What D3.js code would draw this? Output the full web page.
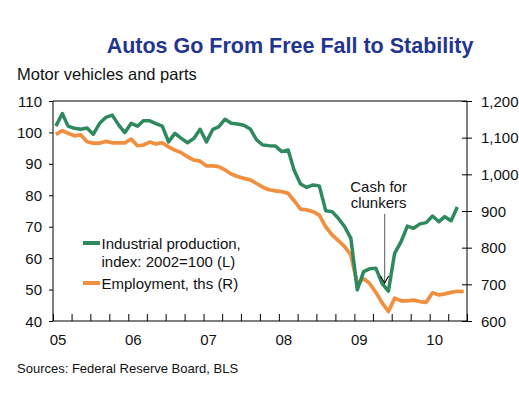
<!DOCTYPE html>
<html>
<head>
<meta charset="utf-8">
<script src="https://cdn.jsdelivr.net/npm/d3@7"></script>
<style>
  body { margin: 0; background: #fff; }
  svg { display: block; }
</style>
</head>
<body>
<svg id="chart"></svg>
<script>
// Monthly data starting Jan 2005
const startYear = 2005;
const ipIndex = [
  102, 106, 102, 101.3, 101, 101.4, 99.4, 102.9, 104.8, 105.5, 102.4, 99.9,
  102.9, 102, 103.7, 103.7, 102.8, 102, 97, 99.7, 98.1, 96.7, 98.1, 101,
  97, 101, 101.8, 104.2, 102.9, 102.7, 102.3, 101.1, 97.6, 96, 95.8, 95.7,
  93.9, 94.4, 88, 83.6, 82.5, 83.3, 83, 75.1, 74.8, 72.7, 70, 66.3,
  49.9, 55.7, 56.6, 56.8, 52, 49.5, 61.5, 65.2, 70.2, 69.5, 70.9, 71.3,
  73.4, 71.6, 73.2, 71.9, 76.3
];
const employment = [
  1109, 1119, 1112, 1105, 1108, 1089, 1085, 1085, 1090, 1086, 1086, 1086,
  1096, 1078, 1080, 1088, 1083, 1086, 1075, 1066, 1059, 1048, 1039, 1036,
  1023, 1023, 1021, 1012, 1001, 994, 989, 985, 975, 965, 958, 955,
  953, 948, 928, 905, 903, 898, 889, 857, 835, 819, 803, 780,
  702, 715, 703, 678, 650, 626, 662, 655, 655, 657, 653, 651,
  677, 671, 674, 678, 681, 680
];
const leftTicks = [40, 50, 60, 70, 80, 90, 100, 110];
const rightTicks = [600, 700, 800, 900, 1000, 1100, 1200];
const yearLabels = ["05", "06", "07", "08", "09", "10"];
const legendLabels = [["Industrial production,", "index: 2002=100 (L)"], ["Employment, ths (R)"]];
const noteLines = ["Cash for", "clunkers"];
const noteMonth = 54; // Jul 2009

const font = "Liberation Sans, Arial, sans-serif";
const width = 519;
const height = 398;
const svg = d3
  .select("#chart")
  .attr("width", width)
  .attr("height", height)
  .attr("viewBox", `0 0 ${width} ${height}`)
  .attr("font-family", font);

const margin = { top: 101, bottom: 77, left: 53, right: 52 };
const innerWidth = width - margin.left - margin.right;
const innerHeight = height - margin.top - margin.bottom;

const monthDate = (i) => new Date(startYear, i, 15);

const xScale = d3
  .scaleTime()
  .domain([new Date(2005, 0, 1), new Date(2010, 6, 1)])
  .range([0, innerWidth]);
const yLeft = d3.scaleLinear().domain([40, 110]).range([innerHeight, 0]);
const yRight = d3.scaleLinear().domain([600, 1200]).range([innerHeight, 0]);

const g = svg
  .append("g")
  .attr("transform", `translate(${margin.left},${margin.top})`);

// frame top
g.append("line")
  .attr("x1", 0).attr("x2", innerWidth)
  .attr("y1", 0).attr("y2", 0)
  .attr("stroke", "#000");

const styleAxis = (sel) => {
  sel.attr("font-size", 15).attr("font-family", font);
  sel.selectAll("text").attr("fill", "#111");
  sel.selectAll("line, path").attr("stroke", "#000");
};

// left axis
const yAxisL = d3.axisLeft(yLeft).tickValues(leftTicks).tickSize(4).tickPadding(7);
const yAxisLG = g.append("g").call(yAxisL).call(styleAxis);
yAxisLG.select(".domain").attr("d", `M0,0V${innerHeight}`);
yAxisLG.selectAll(".tick text").attr("dy", 5);

// right axis
const yAxisR = d3
  .axisRight(yRight)
  .tickValues(rightTicks)
  .tickSize(5)
  .tickPadding(9)
  .tickFormat(d3.format(","));
const yAxisRG = g
  .append("g")
  .attr("transform", `translate(${innerWidth},0)`)
  .call(yAxisR)
  .call(styleAxis);
yAxisRG.select(".domain").attr("d", `M0,0V${innerHeight}`);
yAxisRG.selectAll(".tick line").attr("x1", -5);
yAxisRG.selectAll(".tick text").attr("dy", 5);

// bottom axis: quarterly ticks, year labels only
const quarterTicks = d3.timeMonth.every(3).range(new Date(2005, 0, 1), new Date(2010, 7, 1));
const xAxis = d3
  .axisBottom(xScale)
  .tickValues(quarterTicks)
  .tickSize(-7)
  .tickPadding(16)
  .tickFormat((d) => (d.getMonth() === 0 ? yearLabels[d.getFullYear() - startYear] : ""));
const xAxisG = g
  .append("g")
  .attr("transform", `translate(0,${innerHeight})`)
  .call(xAxis)
  .call(styleAxis);
xAxisG.select(".domain").attr("d", `M0,0H${innerWidth}`);
xAxisG.selectAll(".tick text").filter((d) => d.getMonth() !== 0).remove();
xAxisG.selectAll(".tick text").attr("dx", 4.5).attr("y", 20).attr("dy", 4);

// lines
const lineL = d3
  .line()
  .x((d, i) => xScale(monthDate(i)))
  .y((d) => yLeft(d));
const lineR = d3
  .line()
  .x((d, i) => xScale(monthDate(i)))
  .y((d) => yRight(d));

const green = "#2e8a5e";
const orange = "#f08f3e";

g.append("path")
  .attr("d", lineR(employment))
  .attr("fill", "none")
  .attr("stroke", orange)
  .attr("stroke-width", 3.7)
  .attr("stroke-linejoin", "round");
g.append("path")
  .attr("d", lineL(ipIndex))
  .attr("fill", "none")
  .attr("stroke", green)
  .attr("stroke-width", 3.5)
  .attr("stroke-linejoin", "round");

// annotation
const noteX = xScale(monthDate(noteMonth)) - 10;
noteLines.forEach((t, i) => {
  g.append("text")
    .attr("x", noteX - 6)
    .attr("y", 90.5 + i * 16)
    .attr("text-anchor", "middle")
    .attr("font-size", 15)
    .attr("fill", "#111")
    .text(t);
});
g.append("line")
  .attr("x1", noteX).attr("x2", noteX)
  .attr("y1", 113).attr("y2", 181)
  .attr("stroke", "#777")
  .attr("stroke-width", 1.2);
g.append("path")
  .attr("d", `M${noteX - 4},${175}L${noteX},${182}L${noteX + 4},${175}`)
  .attr("fill", "none")
  .attr("stroke", "#111")
  .attr("stroke-width", 1.2);

// legend
const legend = g.append("g").attr("transform", "translate(30,0)");
[green, orange].forEach((c, i) => {
  const cy = i === 0 ? 142 : 182;
  legend.append("line")
    .attr("x1", 0).attr("x2", 17)
    .attr("y1", cy).attr("y2", cy)
    .attr("stroke", c)
    .attr("stroke-width", 4);
  legendLabels[i].forEach((t, j) => {
    legend.append("text")
      .attr("x", 18.5)
      .attr("y", cy + 6 + j * 17.5)
      .attr("font-size", 15)
      .attr("fill", "#111")
      .text(t);
  });
});

// titles
svg.append("text")
  .attr("x", 290)
  .attr("y", 53)
  .attr("text-anchor", "middle")
  .attr("font-size", 21.5)
  .attr("font-weight", "bold")
  .attr("fill", "#1f3591")
  .text("Autos Go From Free Fall to Stability");
svg.append("text")
  .attr("x", 17)
  .attr("y", 80)
  .attr("font-size", 16.5)
  .attr("fill", "#111")
  .text("Motor vehicles and parts");
svg.append("text")
  .attr("x", 17)
  .attr("y", 373)
  .attr("font-size", 13)
  .attr("fill", "#111")
  .text("Sources: Federal Reserve Board, BLS");
</script>
</body>
</html>
